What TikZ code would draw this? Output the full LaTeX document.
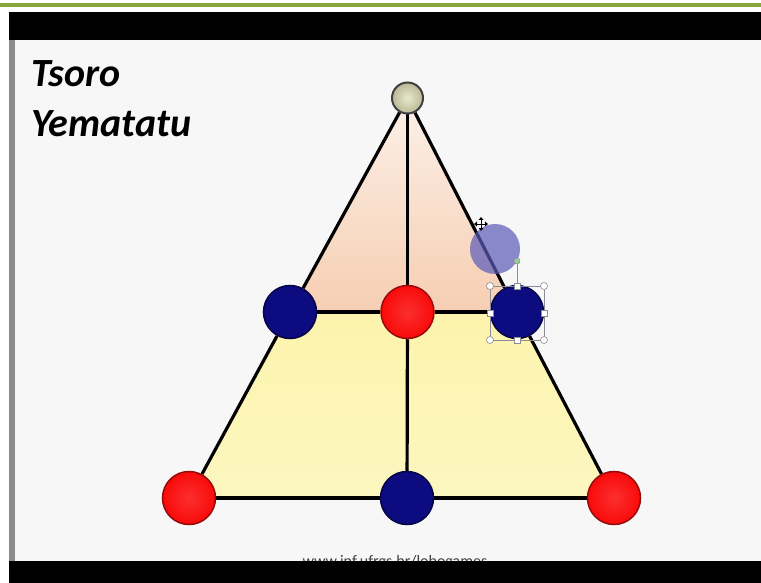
\documentclass[tikz,border=0pt]{standalone}
\usepackage{fontspec}
\setmainfont{Carlito}
\usetikzlibrary{backgrounds}
\definecolor{navystone}{RGB}{12,12,128}
\definecolor{navyedge}{RGB}{5,5,70}
\definecolor{redstone}{RGB}{250,10,10}
\definecolor{rededge}{RGB}{150,10,10}
\definecolor{slidebg}{RGB}{247,247,247}
\definecolor{olivegreen}{RGB}{138,166,58}
\definecolor{peachtop}{RGB}{252,240,232}
\definecolor{peachbot}{RGB}{246,206,178}
\definecolor{yellowtop}{RGB}{252,243,172}
\definecolor{yellowbot}{RGB}{252,247,192}
\definecolor{apexin}{RGB}{232,232,205}
\definecolor{apexout}{RGB}{185,185,150}
\definecolor{handlegray}{RGB}{140,140,150}
\definecolor{ghost}{RGB}{90,90,185}
\begin{document}
\begin{tikzpicture}[x=1pt,y=-1pt,
  boardline/.style={line width=3.2pt, black},
  stone/.style={circle, minimum size=53pt, inner sep=0pt, line width=1.5pt},
  bluestone/.style={stone, fill=navystone, draw=navyedge},
  redpiece/.style={stone, inner color=redstone!85!white, outer color=redstone, draw=rededge},
  apexstone/.style={circle, minimum size=31pt, inner sep=0pt, inner color=apexin, outer color=apexout, draw=black!75, line width=2pt},
  titletext/.style={font=\fontsize{40}{46}\selectfont\bfseries\itshape, anchor=base west, inner sep=0pt},
  handlecirc/.style={circle, minimum size=7pt, inner sep=0pt, fill=white, draw=handlegray, line width=0.6pt},
  handlesq/.style={rectangle, minimum size=6pt, inner sep=0pt, fill=white, draw=handlegray, line width=0.6pt}]
\useasboundingbox (0,0) rectangle (761,583);
% stones
\node[apexstone] (A) at (407.5,98) {};
\node[bluestone] (ML) at (290,312) {};
\node[redpiece]  (MC) at (407.5,312) {};
\node[bluestone] (MR) at (517,312) {};
\node[redpiece]  (BL) at (189,498) {};
\node[bluestone] (BC) at (407,498) {};
\node[redpiece]  (BR) at (614,498) {};
\begin{scope}[on background layer]
  % page frame
  \fill[white] (0,0) rectangle (761,583);
  \fill[olivegreen] (0,3.5) rectangle (761,7);
  \fill[slidebg] (9,12) rectangle (761,561);
  \fill[black] (9,12) rectangle (761,40);
  \fill[black!45] (9,40) rectangle (15,561);
  % board fills
  \fill[top color=peachtop, bottom color=peachbot] (A.center) -- (ML.center) -- (MR.center) -- cycle;
  \fill[top color=yellowtop, bottom color=yellowbot] (ML.center) -- (MR.center) -- (BR.center) -- (BL.center) -- cycle;
  % board lines
  \draw[boardline] (A) -- (ML);
  \draw[boardline] (ML) -- (BL);
  \draw[boardline] (A) -- (MR);
  \draw[boardline] (MR) -- (BR);
  \draw[boardline] (A) -- (MC);
  \draw[boardline] (MC) -- (BC);
  \draw[boardline] (ML) -- (MC);
  \draw[boardline] (MC) -- (MR);
  \draw[boardline] (BL) -- (BC);
  \draw[boardline] (BC) -- (BR);
\end{scope}
% title
\node[titletext] (T1) at (31,87) {Tsoro};
\node[titletext] (T2) at (31,137) {Yematatu};
% dragged ghost stone
\node[circle, minimum size=50pt, inner sep=0pt, fill=ghost, fill opacity=0.7] (G) at (495,249) {};
% selection frame around the right middle stone
\draw[handlegray, line width=0.6pt] (490,286) rectangle (544,340);
\coordinate (RT) at (517,261);
\draw[handlegray, line width=0.6pt] (517,286) -- (RT);
\node[circle, minimum size=6pt, inner sep=0pt, fill=green!40!gray!60, draw=handlegray, line width=0.5pt] (ROT) at (RT) {};
\node[handlecirc] (H1) at (490,286) {};
\node[handlecirc] (H2) at (544,286) {};
\node[handlecirc] (H3) at (490,340) {};
\node[handlecirc] (H4) at (544,340) {};
\node[handlesq] (H5) at (517,286) {};
\node[handlesq] (H6) at (517,340) {};
\node[handlesq] (H7) at (490,313) {};
\node[handlesq] (H8) at (544,313) {};
% move cursor
\begin{scope}[shift={(481,224)}]
  \draw[white, line width=2.4pt] (-6,0) -- (6,0) (0,-6) -- (0,6);
  \draw[black, line width=0.9pt] (-6,0) -- (6,0) (0,-6) -- (0,6);
  \fill[black] (-7,0) -- (-4,-2.5) -- (-4,2.5) -- cycle;
  \fill[black] (7,0) -- (4,-2.5) -- (4,2.5) -- cycle;
  \fill[black] (0,-7) -- (-2.5,-4) -- (2.5,-4) -- cycle;
  \fill[black] (0,7) -- (-2.5,4) -- (2.5,4) -- cycle;
\end{scope}
% footer url (partly hidden by the bar)
\node[font=\fontsize{16}{18}\selectfont, text=black!75, anchor=base, inner sep=0pt] (URL) at (395,566) {www.inf.ufrgs.br/lobogames};
\fill[black] (9,561) rectangle (761,583);
\end{tikzpicture}
\end{document}
